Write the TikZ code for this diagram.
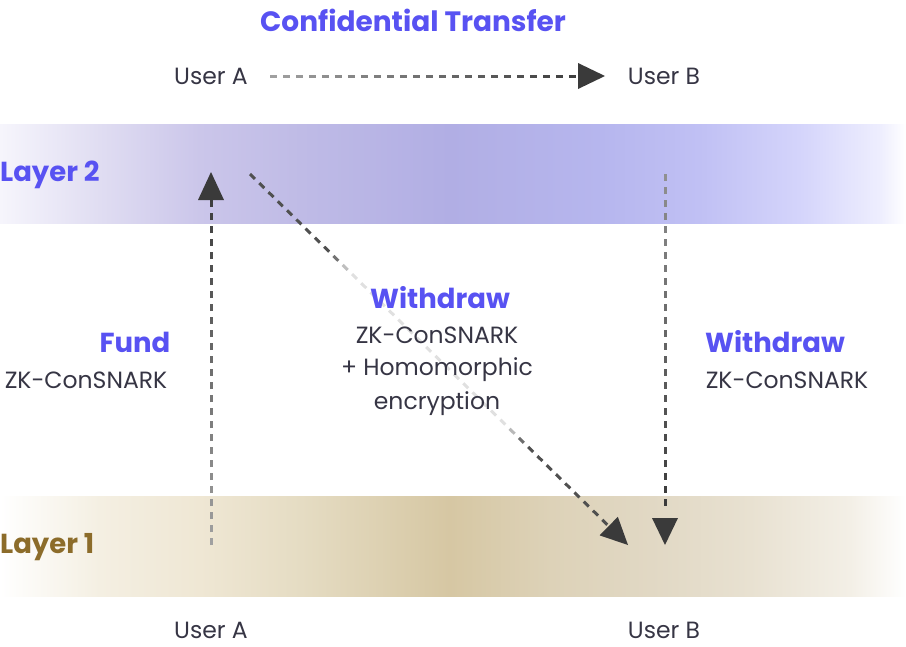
\documentclass[tikz,border=0pt]{standalone}
\usepackage{fontspec}
\setmainfont{Poppins}
\usetikzlibrary{arrows.meta,calc}
\definecolor{txt}{HTML}{363544}
\definecolor{accent}{HTML}{5852F2}
\definecolor{gold}{HTML}{8C6C2A}
\definecolor{tipc}{HTML}{3A3A3A}
\definecolor{dk}{HTML}{3C3C3C}
\definecolor{lg}{HTML}{A0A0A0}
\definecolor{vl}{HTML}{E0E0E0}
% layer 2 colours
\definecolor{la}{HTML}{F6F5FC}
\definecolor{lb}{HTML}{E0DDF2}
\definecolor{lc}{HTML}{CBC6EA}
\definecolor{ld}{HTML}{BFBBE6}
\definecolor{le}{HTML}{B1AEE4}
\definecolor{lf}{HTML}{B6B6EE}
\definecolor{lgg}{HTML}{C0C0F4}
\definecolor{lh}{HTML}{D4D4FB}
\definecolor{li}{HTML}{EEEEFE}
% layer 1 colours
\definecolor{gb}{HTML}{F4EFE2}
\definecolor{gc}{HTML}{EFE7D4}
\definecolor{gd}{HTML}{E5DCC3}
\definecolor{ge}{HTML}{D6C7A3}
\definecolor{gf}{HTML}{DDD2B8}
\definecolor{gg}{HTML}{E1D8C4}
\definecolor{gh}{HTML}{E8E1D1}
\definecolor{gi}{HTML}{F3EFE6}
\pgfdeclarehorizontalshading{layertwo}{100bp}{color(0bp)=(white); color(25bp)=(la); color(30.5bp)=(lb); color(36bp)=(lc); color(41.6bp)=(ld); color(49.8bp)=(le); color(58.1bp)=(lf); color(63.6bp)=(lgg); color(69.1bp)=(lh); color(73.6bp)=(li); color(75bp)=(white); color(100bp)=(white)}
\pgfdeclarehorizontalshading{layerone}{100bp}{color(0bp)=(white); color(25bp)=(white); color(30.5bp)=(gb); color(36bp)=(gc); color(41.6bp)=(gd); color(49.8bp)=(ge); color(55.4bp)=(gf); color(60.9bp)=(gg); color(66.4bp)=(gh); color(71.9bp)=(gi); color(75bp)=(white); color(100bp)=(white)}
\tikzset{
  dashseg/.style={line width=3pt, line cap=butt},
  body/.style={text=txt, font=\fontsize{23.5}{28}\selectfont, inner sep=0pt},
  head/.style={text=accent, font=\bfseries\fontsize{27.5}{32}\selectfont, inner sep=0pt},
}
\newcommand\graddash[5]{%
  \pgfmathtruncatemacro\ndash{floor((#3-7)/13)}%
  \foreach \i in {0,...,\ndash}{%
    \pgfmathsetmacro\ta{\i*13/#3}%
    \pgfmathsetmacro\tb{(\i*13+7)/#3}%
    \pgfmathtruncatemacro\pc{round(100*\ta)}%
    \draw[dashseg, color={#5!\pc!#4}] ($(#1)!\ta!(#2)$) -- ($(#1)!\tb!(#2)$);
  }}
\newcommand\arrtip[2]{%
  \fill[tipc] (#1) -- ($(#2)!13pt!90:(#1)$) -- ($(#2)!13pt!-90:(#1)$) -- cycle;}
\begin{document}
\begin{tikzpicture}[x=1pt,y=-1pt]
\useasboundingbox (0,0) rectangle (906,646);
% bands
\shade[shading=layertwo] (0,124) rectangle (906,223);
\shade[shading=layerone] (0,496) rectangle (906,596);
% coordinates
\coordinate (tA) at (270,76);
\coordinate (tB) at (578,76);
\coordinate (tT) at (605,76);
\coordinate (uA) at (211,545);
\coordinate (uB) at (211,200);
\coordinate (uT) at (211,172);
\coordinate (dA) at (665,174);
\coordinate (dB) at (665,518);
\coordinate (dT) at (665,545);
\coordinate (gA) at (250,174);
\coordinate (gT) at (628,545);
\coordinate (gB) at ($(gT)!27pt!(gA)$);
% arrows
\graddash{tA}{tB}{308}{lg}{dk}
\arrtip{tT}{tB}
\graddash{uA}{uB}{345}{lg}{dk}
\arrtip{uT}{uB}
\graddash{dA}{dB}{344}{lg!90!black}{dk}
\arrtip{dT}{dB}
% diagonal with faded middle
\foreach \i in {0,...,38}{%
  \pgfmathsetmacro\ta{\i*13/503}%
  \pgfmathsetmacro\tb{min(1,(\i*13+7)/503)}%
  \pgfmathtruncatemacro\pc{\ta<0.22 ? 100 : (\ta<0.27 ? round(100-(\ta-0.22)/0.05*100) : (\ta<0.71 ? 0 : (\ta<0.76 ? round((\ta-0.71)/0.05*100) : 100)))}%
  \draw[dashseg, color={dk!90!white!\pc!vl}] ($(gA)!\ta!(gB)$) -- ($(gA)!\tb!(gB)$);
}
\arrtip{gT}{gB}
% texts
\node[head, font=\bfseries\fontsize{28}{32}\selectfont] (title) at (413,20) {Confidential Transfer};
\node[body] (ua1) at (211,76) {User A};
\node[body] (ub1) at (664,76) {User B};
\node[head, anchor=west] (l2) at (0,175) {Layer 2};
\node[head, text=gold, anchor=west] (l1) at (0,547) {Layer 1};
\node[head] (fund) at (135,342) {Fund};
\node[body] (zk1) at (86,380) {ZK-ConSNARK};
\node[head] (wd1) at (440,298) {Withdraw};
\node[body] (zk2) at (437,335) {ZK-ConSNARK};
\node[body] (hom) at (437,370) {+ Homomorphic};
\node[body] (enc) at (437,404) {encryption};
\node[head] (wd2) at (775,342) {Withdraw};
\node[body] (zk3) at (787,380) {ZK-ConSNARK};
\node[body] (ua2) at (211,630) {User A};
\node[body] (ub2) at (664,630) {User B};
\end{tikzpicture}
\end{document}
